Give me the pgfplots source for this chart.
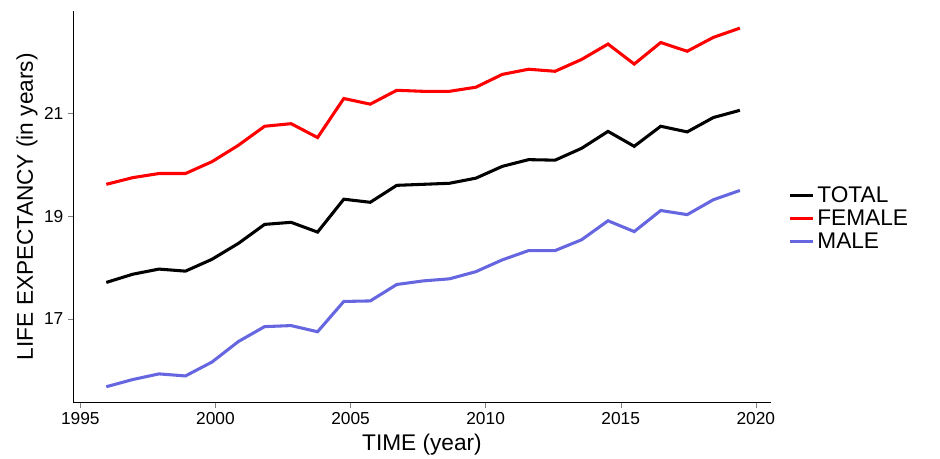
\documentclass[border=0pt]{standalone}
\usepackage{pgfplots}
\pgfplotsset{compat=1.18}
\usepackage{fontspec}
\setmainfont{Liberation Sans}
\definecolor{maleblue}{HTML}{6666E0}
\pgfplotstableread{
x total female male
1995.96 17.71 19.62 15.68
1996.94 17.87 19.75 15.82
1997.91 17.97 19.83 15.93
1998.89 17.93 19.83 15.89
1999.87 18.16 20.06 16.16
2000.85 18.47 20.38 16.56
2001.82 18.84 20.75 16.85
2002.80 18.88 20.80 16.87
2003.78 18.69 20.53 16.75
2004.75 19.33 21.29 17.34
2005.73 19.27 21.18 17.35
2006.71 19.60 21.45 17.67
2007.69 19.62 21.43 17.74
2008.66 19.64 21.43 17.78
2009.64 19.74 21.51 17.92
2010.62 19.97 21.76 18.15
2011.59 20.10 21.86 18.33
2012.57 20.09 21.82 18.33
2013.55 20.32 22.05 18.54
2014.53 20.65 22.35 18.91
2015.50 20.36 21.96 18.70
2016.48 20.75 22.38 19.11
2017.46 20.64 22.21 19.03
2018.43 20.92 22.48 19.32
2019.41 21.06 22.66 19.50
}\data
\begin{document}
\begin{tikzpicture}
\path[use as bounding box] (-55pt,-42pt) rectangle (650pt,302pt);
\begin{axis}[scale only axis, width=523pt, height=294pt,
  xmin=1994.74, xmax=2020.55, ymin=15.37, ymax=23.0,
  axis x line*=bottom, axis y line*=left,
  xtick={1995,2000,2005,2010,2015,2020}, ytick={17,19,21},
  xticklabel style={/pgf/number format/1000 sep={}},
  /pgf/number format/assume math mode=true,
  tick label style={font=\fontsize{13}{15}\selectfont},
  tick align=outside, major tick length=4pt,
  xlabel={TIME (year)}, ylabel={LIFE EXPECTANCY (in years)},
  label style={font=\fontsize{17}{19}\selectfont},
  xlabel style={yshift=0pt}, ylabel style={yshift=-2pt},
  legend style={draw=none, at={(1.02,0.47)}, anchor=west, font=\fontsize{17}{19}\selectfont, row sep=0pt},
  legend image post style={line width=2.3pt},
  legend cell align=left,
  every axis plot/.append style={line width=2.3pt, no marks},
]
\addplot[black] table[x=x,y=total] {\data};
\addplot[red] table[x=x,y=female] {\data};
\addplot[maleblue] table[x=x,y=male] {\data};
\legend{TOTAL,FEMALE,MALE}
\end{axis}
\end{tikzpicture}
\end{document}
